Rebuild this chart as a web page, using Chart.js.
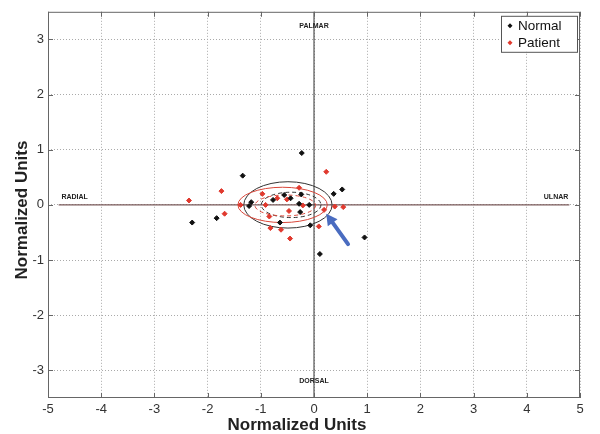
<!DOCTYPE html>
<html><head><meta charset="utf-8">
<script src="https://cdn.jsdelivr.net/npm/chart.js@4/dist/chart.umd.min.js"></script>
<style>html,body{margin:0;padding:0;background:#fff}#c{display:block}</style>
</head><body>
<canvas id="c" width="600" height="434"></canvas>
<script>
// ---- data ----
const xTicks = [-5,-4,-3,-2,-1,0,1,2,3,4,5];
const yTicks = [-3,-2,-1,0,1,2,3];
const seriesNames = ['Normal','Patient'];
const normalX = [-0.23,-1.34,0.37,0.53,-2.29,-1.83,0.95,-1.18,-1.22,-0.56,-0.44,-0.77,-0.24,-0.28,-0.09,-0.26,-0.64,-0.07,0.11];
const normalY = [0.94,0.53,0.20,0.28,-0.32,-0.24,-0.59,0.05,-0.02,0.18,0.12,0.09,0.19,0.02,0.00,-0.13,-0.32,-0.37,-0.89];
const patientX = [0.23,-1.74,-2.35,-1.68,-1.38,-0.97,-0.91,-0.69,-0.51,-0.28,-0.21,-0.47,-0.84,-0.82,-0.62,-0.45,0.09,0.19,0.39,0.55];
const patientY = [0.60,0.25,0.08,-0.16,0.00,0.20,0.00,0.12,0.10,0.31,-0.01,-0.11,-0.21,-0.42,-0.45,-0.61,-0.39,-0.09,-0.03,-0.04];
// confidence ellipses (data units): normal outer, normal inner, patient outer, patient inner
const ellipseCX = [-0.49,-0.43,-0.59,-0.54];
const ellipseCY = [0.00,0.00,0.00,-0.01];
const ellipseRX = [0.83,0.56,0.84,0.57];
const ellipseRY = [0.42,0.23,0.32,0.19];
// region labels
const regionLabels = ['PALMAR','DORSAL','RADIAL','ULNAR'];
const regionLabelX = [0,0,-4.5,4.55];
const regionLabelY = [3.25,-3.2,0.14,0.14];
// baseline and arrow
const baselineX = [-4.8,4.8];
const arrowFrom = [0.64,-0.71];
const arrowTo = [0.23,-0.16];
const axisTitle = 'Normalized Units';

// ---- styles ----
const FONT = '"Liberation Sans", Arial, sans-serif';
const seriesColors = ['#111','#e0392e'];
const ellipseStyle = [
  {color:'#333', dash:[]},
  {color:'#333', dash:[4,3]},
  {color:'#d9473a', dash:[]},
  {color:'#d9473a', dash:[4,3]}
];

const pts = (xs, ys) => xs.map((x,i)=>({x, y: ys[i]}));

const overlay = {
  id:'overlay',
  beforeDatasetsDraw(chart){
    const {ctx, chartArea:a, scales:{x,y}} = chart;
    ctx.save();
    ctx.strokeStyle = '#7a5a5a'; ctx.lineWidth = 1.2;
    ctx.beginPath();
    ctx.moveTo(x.getPixelForValue(baselineX[0]), y.getPixelForValue(0));
    ctx.lineTo(x.getPixelForValue(baselineX[1]), y.getPixelForValue(0));
    ctx.stroke();
    ctx.strokeStyle = '#333'; ctx.lineWidth = 1;
    ctx.beginPath();
    ctx.moveTo(x.getPixelForValue(0), a.top);
    ctx.lineTo(x.getPixelForValue(0), a.bottom);
    ctx.stroke();
    ellipseCX.forEach((cx,i)=>{
      const px = x.getPixelForValue(cx), py = y.getPixelForValue(ellipseCY[i]);
      const rx = Math.abs(x.getPixelForValue(cx+ellipseRX[i]) - px);
      const ry = Math.abs(y.getPixelForValue(ellipseCY[i]+ellipseRY[i]) - py);
      ctx.strokeStyle = ellipseStyle[i].color; ctx.setLineDash(ellipseStyle[i].dash);
      ctx.lineWidth = 1;
      ctx.beginPath(); ctx.ellipse(px, py, rx, ry, 0, 0, Math.PI*2); ctx.stroke();
    });
    ctx.setLineDash([]);
    ctx.fillStyle = '#222'; ctx.font = 'bold 7px ' + FONT;
    ctx.textAlign = 'center'; ctx.textBaseline = 'middle';
    regionLabels.forEach((t,i)=>{
      ctx.fillText(t, x.getPixelForValue(regionLabelX[i]), y.getPixelForValue(regionLabelY[i]));
    });
    ctx.restore();
  },
  afterDatasetsDraw(chart){
    const {ctx, chartArea:a, scales:{x,y}} = chart;
    ctx.save();
    // arrow
    const x1 = x.getPixelForValue(arrowFrom[0]), y1 = y.getPixelForValue(arrowFrom[1]);
    const x2 = x.getPixelForValue(arrowTo[0]), y2 = y.getPixelForValue(arrowTo[1]);
    const ang = Math.atan2(y2-y1, x2-x1);
    const hl = 11, hw = 6;
    const bx = x2 - hl*Math.cos(ang), by = y2 - hl*Math.sin(ang);
    ctx.strokeStyle = '#4a6cc0'; ctx.fillStyle = '#4a6cc0'; ctx.lineWidth = 4; ctx.lineCap='round';
    ctx.beginPath(); ctx.moveTo(x1,y1); ctx.lineTo(bx,by); ctx.stroke();
    ctx.beginPath();
    ctx.moveTo(x2,y2);
    ctx.lineTo(bx + hw*Math.sin(ang), by - hw*Math.cos(ang));
    ctx.lineTo(bx - hw*Math.sin(ang), by + hw*Math.cos(ang));
    ctx.closePath(); ctx.fill();
    // frame
    ctx.lineCap='butt';
    ctx.strokeStyle = '#666'; ctx.lineWidth = 1;
    ctx.strokeRect(a.left+0.5, a.top+0.5, a.right-a.left-1, a.bottom-a.top-1);
    ctx.beginPath();
    xTicks.forEach(v=>{ const p = Math.round(x.getPixelForValue(v))+0.5;
      ctx.moveTo(p,a.bottom); ctx.lineTo(p,a.bottom-5); ctx.moveTo(p,a.top); ctx.lineTo(p,a.top+5); });
    yTicks.forEach(v=>{ const p = Math.round(y.getPixelForValue(v))+0.5;
      ctx.moveTo(a.left,p); ctx.lineTo(a.left+5,p); ctx.moveTo(a.right,p); ctx.lineTo(a.right-5,p); });
    ctx.stroke();
    // legend box (top-right inside plot)
    const bw = 76, bh = 36, lx = a.right - 3 - bw, ly = a.top + 4;
    ctx.fillStyle = '#fff'; ctx.fillRect(lx, ly, bw, bh);
    ctx.strokeStyle = '#555'; ctx.strokeRect(lx+0.5, ly+0.5, bw, bh);
    ctx.font = '13.5px ' + FONT; ctx.textAlign='left'; ctx.textBaseline='middle';
    seriesNames.forEach((n,i)=>{
      const cy = ly + 10 + i*17;
      ctx.fillStyle = seriesColors[i];
      ctx.beginPath(); ctx.moveTo(lx+9, cy-2.5); ctx.lineTo(lx+11.5, cy); ctx.lineTo(lx+9, cy+2.5); ctx.lineTo(lx+6.5, cy); ctx.closePath(); ctx.fill();
      ctx.fillStyle = '#111';
      ctx.fillText(n, lx + 17, cy);
    });
    // axis titles
    ctx.fillStyle = '#222'; ctx.font = 'bold 17px ' + FONT;
    ctx.textAlign = 'center'; ctx.textBaseline = 'middle';
    ctx.fillText(axisTitle, 297, 425);
    ctx.translate(22, 210); ctx.rotate(-Math.PI/2);
    ctx.fillText(axisTitle, 0, 0);
    ctx.restore();
  }
};

new Chart(document.getElementById('c'), {
  type:'scatter',
  data:{ datasets:[
    {label:seriesNames[0], data:pts(normalX,normalY), pointStyle:'rectRot', pointRadius:2.5, backgroundColor:seriesColors[0], borderColor:seriesColors[0], borderWidth:1},
    {label:seriesNames[1], data:pts(patientX,patientY), pointStyle:'rectRot', pointRadius:2.5, backgroundColor:seriesColors[1], borderColor:seriesColors[1], borderWidth:1}
  ]},
  options:{
    responsive:false, animation:false, devicePixelRatio:1,
    layout:{padding:{top:8,right:20,left:0,bottom:0}},
    plugins:{ tooltip:{enabled:false}, legend:{display:false} },
    scales:{
      x:{type:'linear', min:-5, max:5,
        afterBuildTicks:s=>{ s.ticks = xTicks.map(v=>({value:v})); },
        afterFit:s=>{ s.height = 36; },
        grid:{color:'#aaa', lineWidth:1, drawTicks:false},
        border:{display:false, dash:[1,2]},
        ticks:{color:'#333', padding:4, font:{family:FONT, size:13}},
        title:{display:false}
      },
      y:{type:'linear', min:-3.5, max:3.5,
        afterBuildTicks:s=>{ s.ticks = yTicks.map(v=>({value:v})); },
        afterFit:s=>{ s.width = 48; },
        grid:{color:'#aaa', lineWidth:1, drawTicks:false},
        border:{display:false, dash:[1,2]},
        ticks:{color:'#333', padding:4, font:{family:FONT, size:13}},
        title:{display:false}
      }
    }
  },
  plugins:[overlay]
});
</script>
</body></html>
